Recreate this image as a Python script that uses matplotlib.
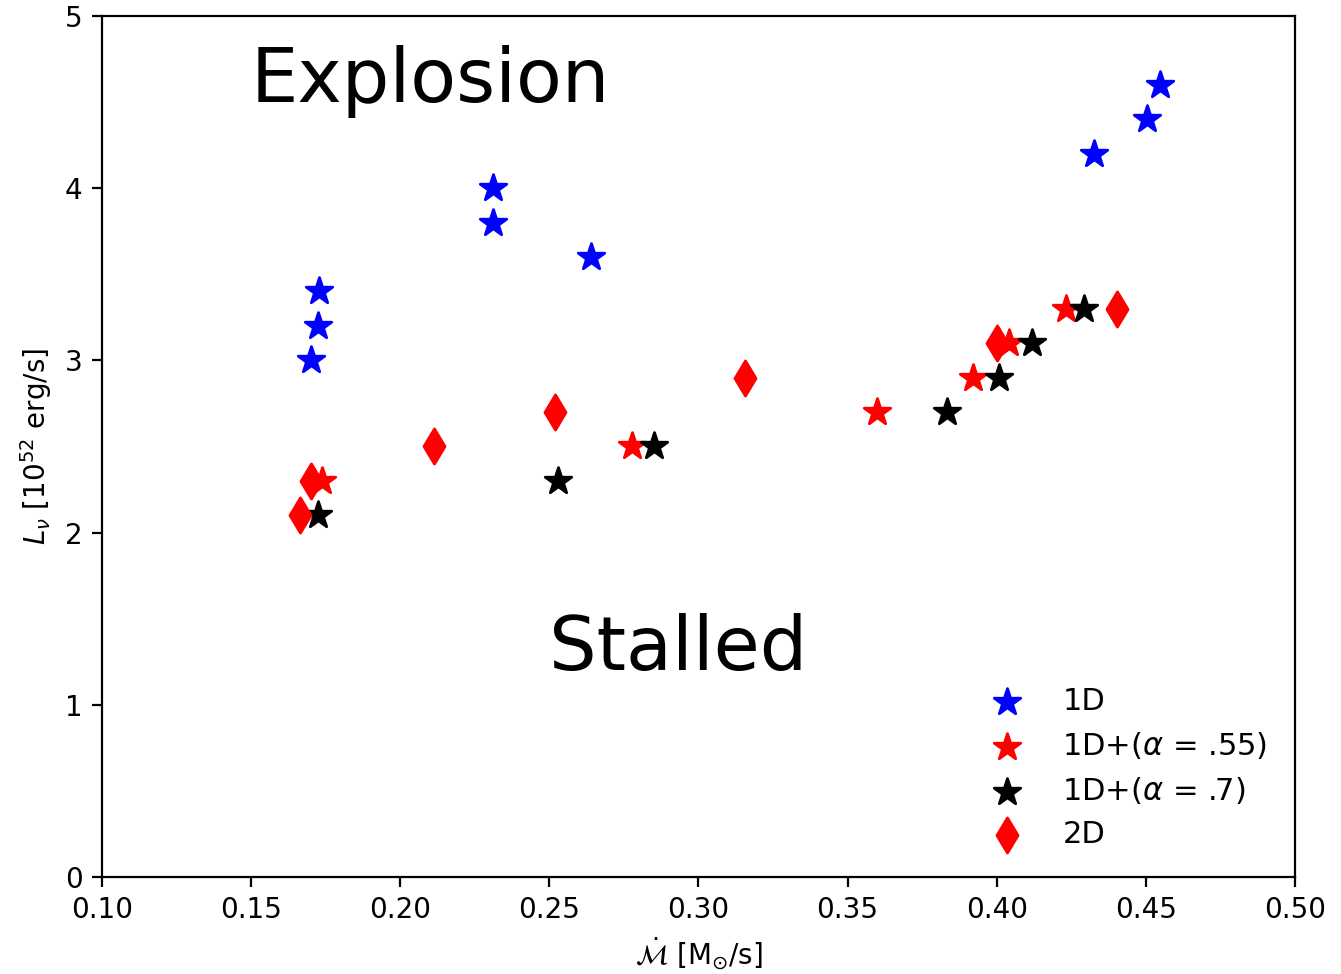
import numpy as np
import matplotlib
matplotlib.use('Agg')
import matplotlib.pyplot as plt

# 1D
mdot_1d = [0.170, 0.1724, 0.1728, 0.2311, 0.2311, 0.264, 0.4326, 0.4504, 0.4547]
lnu_1d = [3.0, 3.2, 3.4, 3.8, 4.0, 3.6, 4.2, 4.4, 4.6]

# 1D+ alpha = .55
mdot_a55 = [0.1738, 0.2777, 0.3599, 0.392, 0.404, 0.4232]
lnu_a55 = [2.3, 2.5, 2.7, 2.9, 3.1, 3.3]

# 1D+ alpha = .7
mdot_a7 = [0.1724, 0.2529, 0.2851, 0.3833, 0.4008, 0.4118, 0.4293]
lnu_a7 = [2.1, 2.3, 2.5, 2.7, 2.9, 3.1, 3.3]

# 2D
mdot_2d = [0.1664, 0.1701, 0.2113, 0.2519, 0.3156, 0.4001, 0.4403]
lnu_2d = [2.1, 2.3, 2.5, 2.7, 2.9, 3.1, 3.3]

fig = plt.figure(figsize=(6.705, 4.87), dpi=200)
ax = fig.add_axes([0.076, 0.0996, 0.8897, 0.884])

ax.scatter(mdot_1d, lnu_1d, marker='*', s=100, color='b', label='1D')
ax.scatter(mdot_a55, lnu_a55, marker='*', s=100, color='r', label=r'1D+($\alpha$ = .55)')
ax.scatter(mdot_a7, lnu_a7, marker='*', s=100, color='k', label=r'1D+($\alpha$ = .7)')
ax.scatter(mdot_2d, lnu_2d, marker='d', s=80, color='r', label='2D')

ax.text(0.15, 4.5, 'Explosion', fontsize=27)
ax.text(0.25, 1.2, 'Stalled', fontsize=27)

ax.set_xlim(0.1, 0.5)
ax.set_ylim(0, 5)
ax.set_xlabel(r'$\dot{\mathcal{M}}$ [M$_{\odot}$/s]')
ax.set_ylabel(r'$L_\nu$ [$10^{52}$ erg/s]')
ax.legend(loc='lower right', frameon=False, fontsize=11, labelspacing=0.46)

plt.savefig('out.png', dpi=200)
